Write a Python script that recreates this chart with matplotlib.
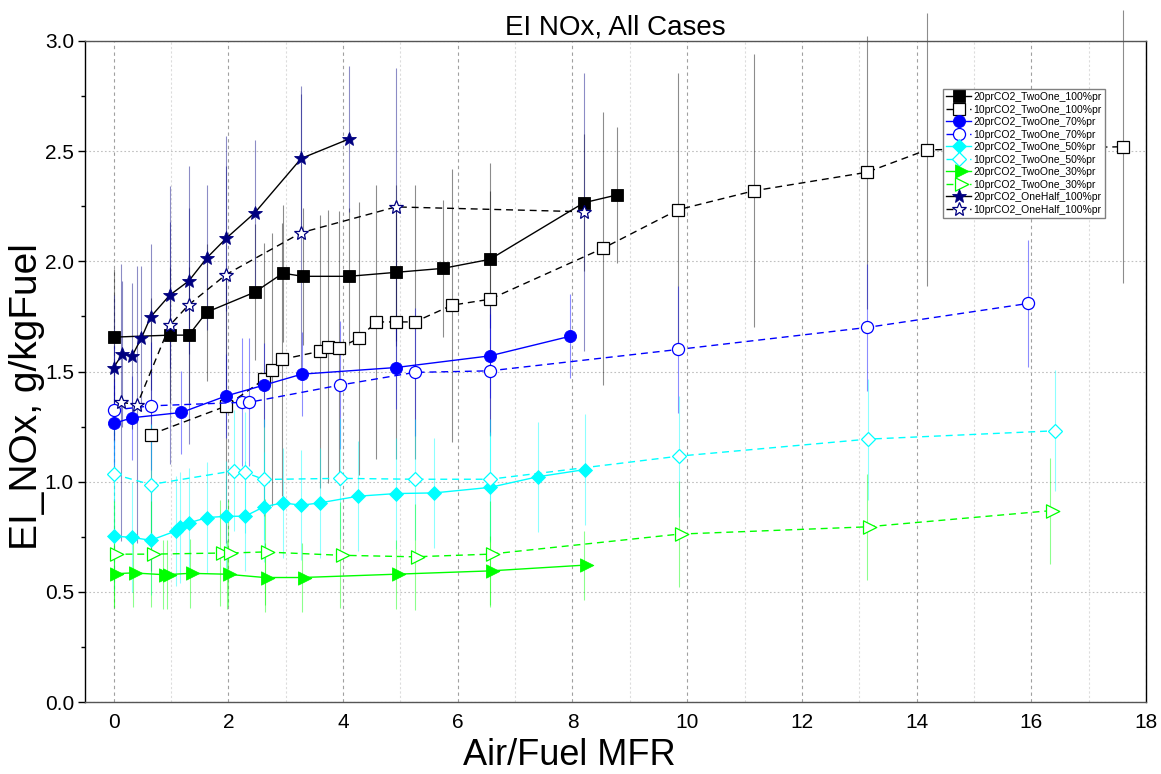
import numpy as np
import matplotlib
matplotlib.use('Agg')
import matplotlib.pyplot as plt
from matplotlib.path import Path
from matplotlib.ticker import MultipleLocator

plt.rcParams['font.family'] = ['Liberation Sans', 'DejaVu Sans']

# 20prCO2_TwoOne_100%pr
x_sq20 = [0, 0.98, 1.31, 1.62, 2.46, 2.95, 3.30, 4.10, 4.92, 5.74, 6.56, 8.20, 8.77]
y_sq20 = [1.656, 1.665, 1.665, 1.769, 1.86, 1.946, 1.932, 1.932, 1.95, 1.968, 2.009, 2.266, 2.301]
e_sq20 = 0.31
# 10prCO2_TwoOne_100%pr
x_sq10 = [0.645, 1.96, 2.62, 2.76, 2.94, 3.60, 3.74, 3.93, 4.27, 4.58, 4.92, 5.25, 5.90, 6.56,
          8.53, 9.84, 11.16, 13.13, 14.18, 17.6]
y_sq10 = [1.214, 1.343, 1.464, 1.509, 1.555, 1.592, 1.612, 1.607, 1.65, 1.725, 1.725, 1.725, 1.801, 1.828,
          2.059, 2.234, 2.32, 2.404, 2.506, 2.52]
e_sq10 = 0.62
# 20prCO2_TwoOne_70%pr
x_ci20 = [0, 0.32, 1.18, 1.96, 2.62, 3.28, 4.92, 6.56, 7.96]
y_ci20 = [1.264, 1.29, 1.314, 1.389, 1.438, 1.488, 1.518, 1.571, 1.66]
e_ci20 = 0.19
# 10prCO2_TwoOne_70%pr
x_ci10 = [0, 0.645, 2.24, 2.36, 3.94, 5.25, 6.56, 9.84, 13.14, 15.95]
y_ci10 = [1.325, 1.344, 1.36, 1.36, 1.438, 1.496, 1.503, 1.60, 1.70, 1.809]
e_ci10 = 0.29
# 20prCO2_TwoOne_50%pr
x_di20 = [0, 0.32, 0.645, 1.08, 1.15, 1.31, 1.63, 1.96, 2.29, 2.62, 2.95, 3.27, 3.60, 4.26,
          4.92, 5.59, 6.56, 7.39, 8.22]
y_di20 = [0.753, 0.747, 0.734, 0.776, 0.792, 0.813, 0.837, 0.843, 0.843, 0.886, 0.904, 0.893, 0.904, 0.934,
          0.946, 0.949, 0.974, 1.022, 1.055]
e_di20 = 0.25
# 10prCO2_TwoOne_50%pr
x_di10 = [0, 0.645, 2.09, 2.29, 2.62, 3.94, 5.25, 6.56, 9.86, 13.15, 16.42]
y_di10 = [1.034, 0.987, 1.049, 1.042, 1.01, 1.015, 1.011, 1.011, 1.116, 1.193, 1.231]
e_di10 = 0.275
# 20prCO2_TwoOne_30%pr
x_tr20 = [0, 0.34, 0.86, 0.93, 1.33, 1.97, 2.63, 3.29, 4.92, 6.56, 8.20]
y_tr20 = [0.582, 0.586, 0.578, 0.578, 0.584, 0.58, 0.565, 0.565, 0.58, 0.595, 0.621]
e_tr20 = 0.157
# 10prCO2_TwoOne_30%pr
x_tr10 = [0, 0.65, 1.85, 2.0, 2.63, 3.95, 5.25, 6.56, 9.86, 13.14, 16.32]
y_tr10 = [0.671, 0.671, 0.676, 0.676, 0.681, 0.666, 0.659, 0.671, 0.762, 0.795, 0.868]
e_tr10 = 0.24
# 20prCO2_OneHalf_100%pr
x_st20 = [0, 0.15, 0.32, 0.48, 0.645, 0.98, 1.31, 1.63, 1.96, 2.46, 3.27, 4.10]
y_st20 = [1.518, 1.579, 1.57, 1.65, 1.748, 1.847, 1.911, 2.017, 2.104, 2.22, 2.467, 2.555]
e_st20 = 0.33
# 10prCO2_OneHalf_100%pr
x_st10 = [0.13, 0.41, 0.98, 1.31, 1.96, 3.27, 4.92, 8.20]
y_st10 = [1.36, 1.35, 1.71, 1.803, 1.94, 2.13, 2.247, 2.225]
e_st10 = 0.63

tri = Path([(-0.6, -1), (-0.6, 1), (1.4, 0), (-0.6, -1)], closed=True)
dash = (0, (5, 3.5))

series = [
    ('20prCO2_TwoOne_100%pr', x_sq20, y_sq20, e_sq20, 'black', 'black', 's', 8.3, True, '-'),
    ('10prCO2_TwoOne_100%pr', x_sq10, y_sq10, e_sq10, 'black', 'black', 's', 8.3, False, dash),
    ('20prCO2_TwoOne_70%pr', x_ci20, y_ci20, e_ci20, '#0000ff', '#0000ff', 'o', 8.7, True, '-'),
    ('10prCO2_TwoOne_70%pr', x_ci10, y_ci10, e_ci10, '#0000ff', '#0000ff', 'o', 8.7, False, dash),
    ('20prCO2_TwoOne_50%pr', x_di20, y_di20, e_di20, '#00ffff', '#00ffff', 'D', 7.6, True, '-'),
    ('10prCO2_TwoOne_50%pr', x_di10, y_di10, e_di10, '#00ffff', '#00ffff', 'D', 7.6, False, dash),
    ('20prCO2_TwoOne_30%pr', x_tr20, y_tr20, e_tr20, '#00ff00', '#00ff00', tri, 13.4, True, '-'),
    ('10prCO2_TwoOne_30%pr', x_tr10, y_tr10, e_tr10, '#00ff00', '#00ff00', tri, 13.4, False, dash),
    ('20prCO2_OneHalf_100%pr', x_st20, y_st20, e_st20, '#000080', 'black', '*', 10, True, '-'),
    ('10prCO2_OneHalf_100%pr', x_st10, y_st10, e_st10, '#000080', 'black', '*', 10, False, dash),
]

fig = plt.figure(figsize=(11.61, 7.74), dpi=100)
ax = fig.add_axes([85 / 1161, 1 - 702 / 774, 1061 / 1161, 661 / 774])

# error bars first, not clipped (they run past the frame in the original)
for lab, x, y, e, mc, lc, m, ms, filled, ls in series:
    x = np.array(x); y = np.array(y)
    ax.vlines(x, y - e, y + e, colors=mc, alpha=0.45, lw=0.8, clip_on=False, zorder=2)

handles = []
for lab, x, y, e, mc, lc, m, ms, filled, ls in series:
    h, = ax.plot(x, y, color=lc, ls=ls, lw=1.0, marker=m, ms=ms,
                 mfc=mc if filled else 'white', mec=mc, mew=0.9 if not filled else 0.6,
                 label=lab, zorder=3)
    handles.append(h)

ax.set_xlim(-0.5, 18)
ax.set_ylim(0, 3.0)
ax.xaxis.set_major_locator(MultipleLocator(2))
ax.xaxis.set_minor_locator(MultipleLocator(1))
ax.yaxis.set_major_locator(MultipleLocator(0.5))
ax.yaxis.set_minor_locator(MultipleLocator(0.25))
ax.yaxis.set_major_formatter(plt.FormatStrFormatter('%.1f'))

ax.set_axisbelow(True)
ax.grid(which='major', axis='x', color='#a0a0a0', ls=(0, (3, 3)), lw=0.8)
ax.grid(which='minor', axis='x', color='#dcdcdc', ls=(0, (2, 2)), lw=0.8)
ax.grid(which='major', axis='y', color='#c0c0c0', ls=(0, (1.5, 2)), lw=0.8)

ax.tick_params(axis='y', which='major', direction='out', length=5, width=1, labelsize=15, pad=3)
ax.tick_params(axis='y', which='minor', direction='out', length=3, width=1)
ax.tick_params(axis='x', which='both', length=0, labelsize=15, pad=8)

for s in ['left', 'right']:
    ax.spines[s].set_color('black')
for s in ['top', 'bottom']:
    ax.spines[s].set_color('#555555')
for s in ax.spines.values():
    s.set_linewidth(1.0)

ax.set_title('EI NOx, All Cases', fontsize=20, pad=5)
ax.set_xlabel('Air/Fuel MFR', fontsize=26)
ax.set_ylabel('EI_NOx, g/kgFuel', fontsize=28)
ax.xaxis.set_label_coords(0.456, -0.055)
ax.yaxis.set_label_coords(-0.0375, 0.462)

leg = ax.legend(handles=handles, loc='upper left', bbox_to_anchor=(943 / 1161, 1 - 89 / 774),
                bbox_transform=fig.transFigure, fontsize=7.5, labelspacing=0.24, handlelength=2.4,
                handletextpad=0.2, borderpad=0.3, borderaxespad=0, fancybox=False, framealpha=1,
                edgecolor='#808080', markerscale=1.0)
leg.get_frame().set_linewidth(1.0)

fig.savefig('out.png', dpi=100)
